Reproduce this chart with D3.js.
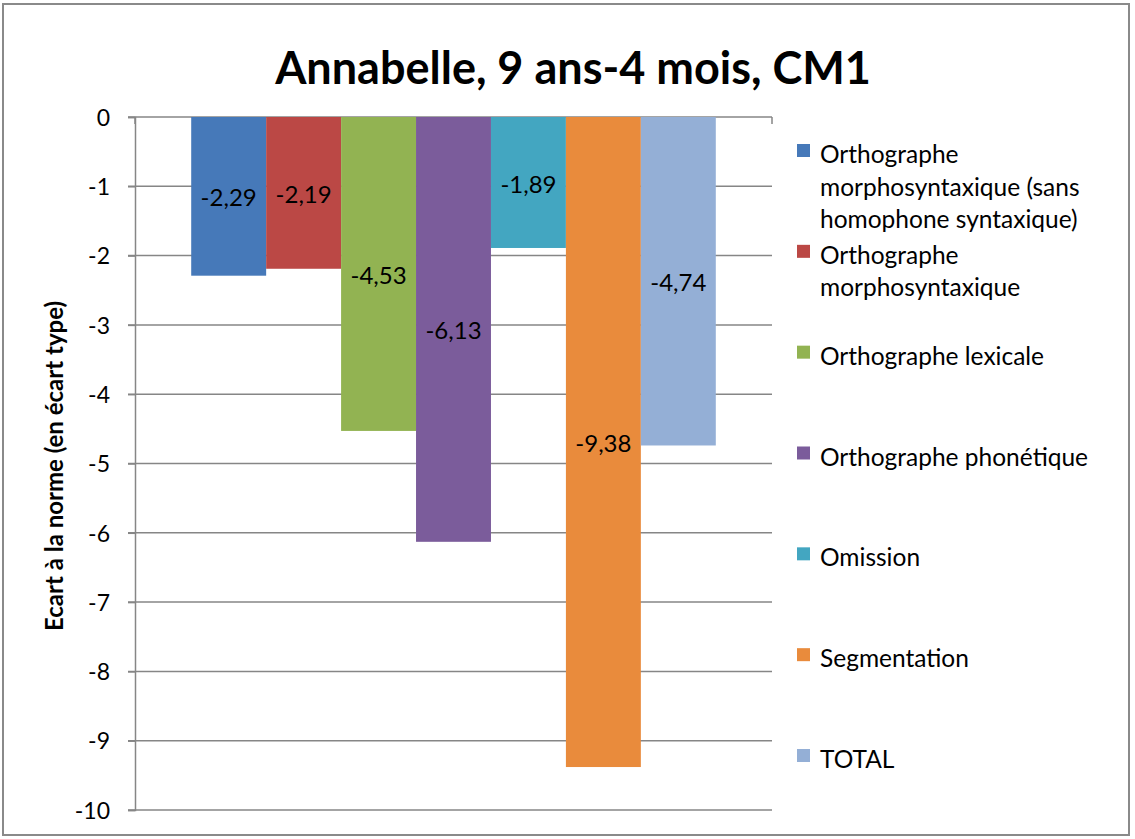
<!DOCTYPE html>
<html>
<head>
<meta charset="utf-8">
<script src="https://cdn.jsdelivr.net/npm/d3@7"></script>
<style>
  html, body { margin: 0; padding: 0; background: #fff; }
  svg text { font-family: Lato, "Open Sans", sans-serif; fill: #000; }
</style>
</head>
<body>
<div id="chart"></div>
<script>
// values
var seriesNames = [
    "Orthographe morphosyntaxique (sans homophone syntaxique)",
    "Orthographe morphosyntaxique",
    "Orthographe lexicale",
    "Orthographe phonétique",
    "Omission",
    "Segmentation",
    "TOTAL"
];
var legendLines = [
    ["Orthographe", "morphosyntaxique (sans", "homophone syntaxique)"],
    ["Orthographe", "morphosyntaxique"],
    ["Orthographe lexicale"],
    ["Orthographe phonétique"],
    ["Omission"],
    ["Segmentation"],
    ["TOTAL"]
];
var values = [-2.29, -2.19, -4.53, -6.13, -1.89, -9.38, -4.74];
var colors = ["#4679b9", "#bb4845", "#92b352", "#7b5c9b", "#43a6c1", "#e98b3c", "#94afd6"];
var yTicks = [0, -1, -2, -3, -4, -5, -6, -7, -8, -9, -10];

var title = "Annabelle, 9 ans-4 mois, CM1";
var yTitle = "Ecart à la norme (en écart type)";

var width = 1135, height = 839;
var plot = {left: 135, right: 772, top: 117, bottom: 810};

// french style numbers, plain hyphen for minus
var fr = d3.formatLocale({decimal: ",", thousands: " ", grouping: [3], currency: ["", " €"], minus: "-"});

var svg = d3.select("#chart").append("svg")
    .attr("width", width)
    .attr("height", height);

svg.append("rect")
    .attr("x", 3).attr("y", 4)
    .attr("width", 1126).attr("height", 831)
    .attr("fill", "#fff")
    .attr("stroke", "#8a8a8a")
    .attr("stroke-width", 2);

var y = d3.scaleLinear().domain([-10, 0]).range([plot.bottom, plot.top]);
var x = d3.scaleBand()
    .domain(seriesNames)
    .range([plot.left, plot.right])
    .paddingInner(0)
    .paddingOuter(0.75);

// gridlines
svg.append("g")
    .selectAll("line")
    .data(yTicks)
    .enter().append("line")
    .attr("x1", plot.left - 7)
    .attr("x2", plot.right)
    .attr("y1", function(d) { return y(d); })
    .attr("y2", function(d) { return y(d); })
    .attr("stroke", "#868686")
    .attr("stroke-width", 1.5);

// bars
svg.append("g")
    .selectAll("rect")
    .data(values)
    .enter().append("rect")
    .attr("x", function(d, i) { return x(seriesNames[i]); })
    .attr("width", x.bandwidth())
    .attr("y", y(0))
    .attr("height", function(d) { return y(d) - y(0); })
    .attr("fill", function(d, i) { return colors[i]; });

// y axis line + ticks
var yAxis = d3.axisLeft(y)
    .tickValues(yTicks)
    .tickSize(7)
    .tickPadding(18)
    .tickFormat(fr.format("d"));

var yg = svg.append("g")
    .attr("transform", "translate(" + plot.left + ",0)")
    .call(yAxis);
yg.select(".domain").attr("stroke", "#868686").attr("stroke-width", 1.5);
yg.selectAll(".tick line").attr("stroke", "#868686").attr("stroke-width", 1.5);
yg.selectAll(".tick text")
    .attr("font-family", "Lato, sans-serif")
    .attr("font-size", 23)
    .attr("dy", "0.36em")
    .attr("fill", "#000");

// category axis sits at zero, ticks at both ends
svg.append("g")
    .selectAll("line")
    .data([plot.left, plot.right])
    .enter().append("line")
    .attr("x1", function(d) { return d; })
    .attr("x2", function(d) { return d; })
    .attr("y1", y(0))
    .attr("y2", y(0) + 7)
    .attr("stroke", "#868686")
    .attr("stroke-width", 1.5);

// data labels, centred in the bars
svg.append("g")
    .selectAll("text")
    .data(values)
    .enter().append("text")
    .attr("x", function(d, i) { return x(seriesNames[i]) + x.bandwidth() / 2; })
    .attr("y", function(d) { return (y(0) + y(d)) / 2 + 4; })
    .attr("text-anchor", "middle")
    .attr("dominant-baseline", "middle")
    .attr("font-size", 24)
    .text(function(d) { return fr.format(".2f")(d); });

// title
svg.append("text")
    .attr("x", 573)
    .attr("y", 84)
    .attr("text-anchor", "middle")
    .attr("font-size", 45)
    .attr("font-weight", "bold")
    .text(title);

// y axis title
svg.append("text")
    .attr("transform", "translate(63,466) rotate(-90)")
    .attr("text-anchor", "middle")
    .attr("font-size", 24)
    .attr("font-weight", "bold")
    .text(yTitle);

// legend
var legendY = d3.scaleLinear().domain([0, 6]).range([155, 760]);
var lineGap = 32.5;

var legend = svg.append("g")
    .selectAll("g")
    .data(seriesNames)
    .enter().append("g")
    .attr("transform", function(d, i) { return "translate(0," + legendY(i) + ")"; });

legend.append("rect")
    .attr("x", 797)
    .attr("y", -11)
    .attr("width", 13)
    .attr("height", 13)
    .attr("fill", function(d, i) { return colors[i]; });

legend.append("text")
    .attr("x", 820)
    .attr("font-size", 24.5)
    .selectAll("tspan")
    .data(function(d, i) { return legendLines[i]; })
    .enter().append("tspan")
    .attr("x", 820)
    .attr("y", function(d, j) { return j * lineGap + 8; })
    .text(function(d) { return d; });
</script>
</body>
</html>
